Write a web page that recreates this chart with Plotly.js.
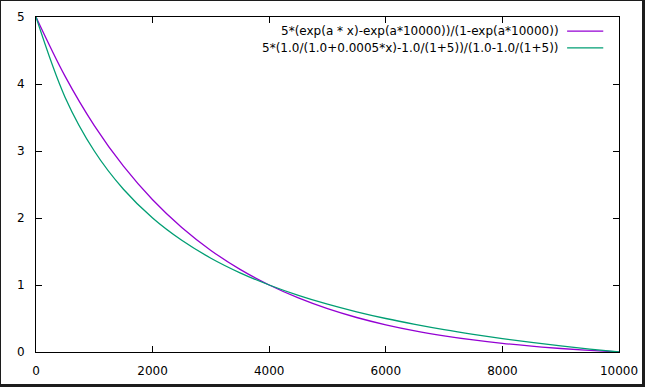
<!DOCTYPE html>
<html>
<head>
<meta charset="utf-8">
<script src="https://cdn.plot.ly/plotly-3.0.1.min.js"></script>
<style>
html,body{margin:0;padding:0;background:#fff;}
#wrap{position:relative;width:645px;height:387px;}
#chart{width:645px;height:387px;}
#frame{position:absolute;left:0;top:0;width:645px;height:387px;box-sizing:border-box;
border-left:1px solid #1c1c1c;border-top:1px solid #1c1c1c;border-right:3px solid #1c1c1c;border-bottom:3px solid #1c1c1c;pointer-events:none;}
</style>
</head>
<body>
<div id="wrap"><div id="chart"></div><div id="frame"></div></div>
<script>
// sample positions along x
const xValues = [0,500,1000,1500,2000,2500,3000,3500,4000,4500,5000,5500,6000,6500,7000,7500,8000,8500,9000,9500,10000];
// purple curve: 5*(exp(a*x)-exp(a*10000))/(1-exp(a*10000))
const expSeries = [5.000,4.113,3.379,2.773,2.272,1.858,1.516,1.233,1.000,0.807,0.647,0.515,0.406,0.316,0.242,0.180,0.129,0.087,0.052,0.024,0.000];
// green curve: 5*(1.0/(1.0+0.0005*x)-1.0/(1+5))/(1.0-1.0/(1+5))
const hypSeries = [5.000,3.800,3.000,2.429,2.000,1.667,1.400,1.182,1.000,0.846,0.714,0.600,0.500,0.412,0.333,0.263,0.200,0.143,0.091,0.043,0.000];
const seriesNames = ["5*(exp(a * x)-exp(a*10000))/(1-exp(a*10000))",
                     "5*(1.0/(1.0+0.0005*x)-1.0/(1+5))/(1.0-1.0/(1+5))"];
const xTicks = [0,2000,4000,6000,8000,10000];
const yTicks = [0,1,2,3,4,5];
const colors = ["#9400d3","#009e73"];

const traces = [expSeries, hypSeries].map((ys,i)=>({
  x: xValues, y: ys, type:'scatter', mode:'lines',
  line:{color:colors[i], width:1.3, shape:'spline', smoothing:1},
  name: seriesNames[i], showlegend:false, hoverinfo:'skip'
}));

const font = {family:'"DejaVu Sans", Verdana, sans-serif', size:12, color:'#000'};
const legendY = [0.958, 0.908];
const annotations = seriesNames.map((t,i)=>({
  xref:'paper', yref:'paper', x:0.9, y:legendY[i], xanchor:'right', yanchor:'middle',
  text:t, showarrow:false, font:font
}));
const shapes = colors.map((c,i)=>({
  type:'line', xref:'paper', yref:'paper', x0:0.911, x1:0.973, y0:legendY[i], y1:legendY[i],
  line:{color:c, width:1.3}
}));

const axisCommon = {
  showgrid:false, zeroline:false, showline:true, linecolor:'#000', linewidth:1,
  mirror:'ticks', ticks:'inside', ticklen:6, tickcolor:'#000', tickwidth:1,
  tickfont:font, fixedrange:true
};

const layout = {
  width:645, height:387,
  margin:{l:36, r:26, t:17, b:35, pad:0},
  paper_bgcolor:'#fff', plot_bgcolor:'#fff',
  font:font,
  xaxis:Object.assign({}, axisCommon, {range:[0,10000], tickvals:xTicks, ticktext:xTicks.map(String), ticklabelstandoff:8}),
  yaxis:Object.assign({}, axisCommon, {range:[0,5], tickvals:yTicks, ticktext:yTicks.map(String), ticklabelstandoff:8}),
  annotations:annotations, shapes:shapes, showlegend:false
};

Plotly.newPlot('chart', traces, layout, {staticPlot:true, displayModeBar:false});
</script>
</body>
</html>
